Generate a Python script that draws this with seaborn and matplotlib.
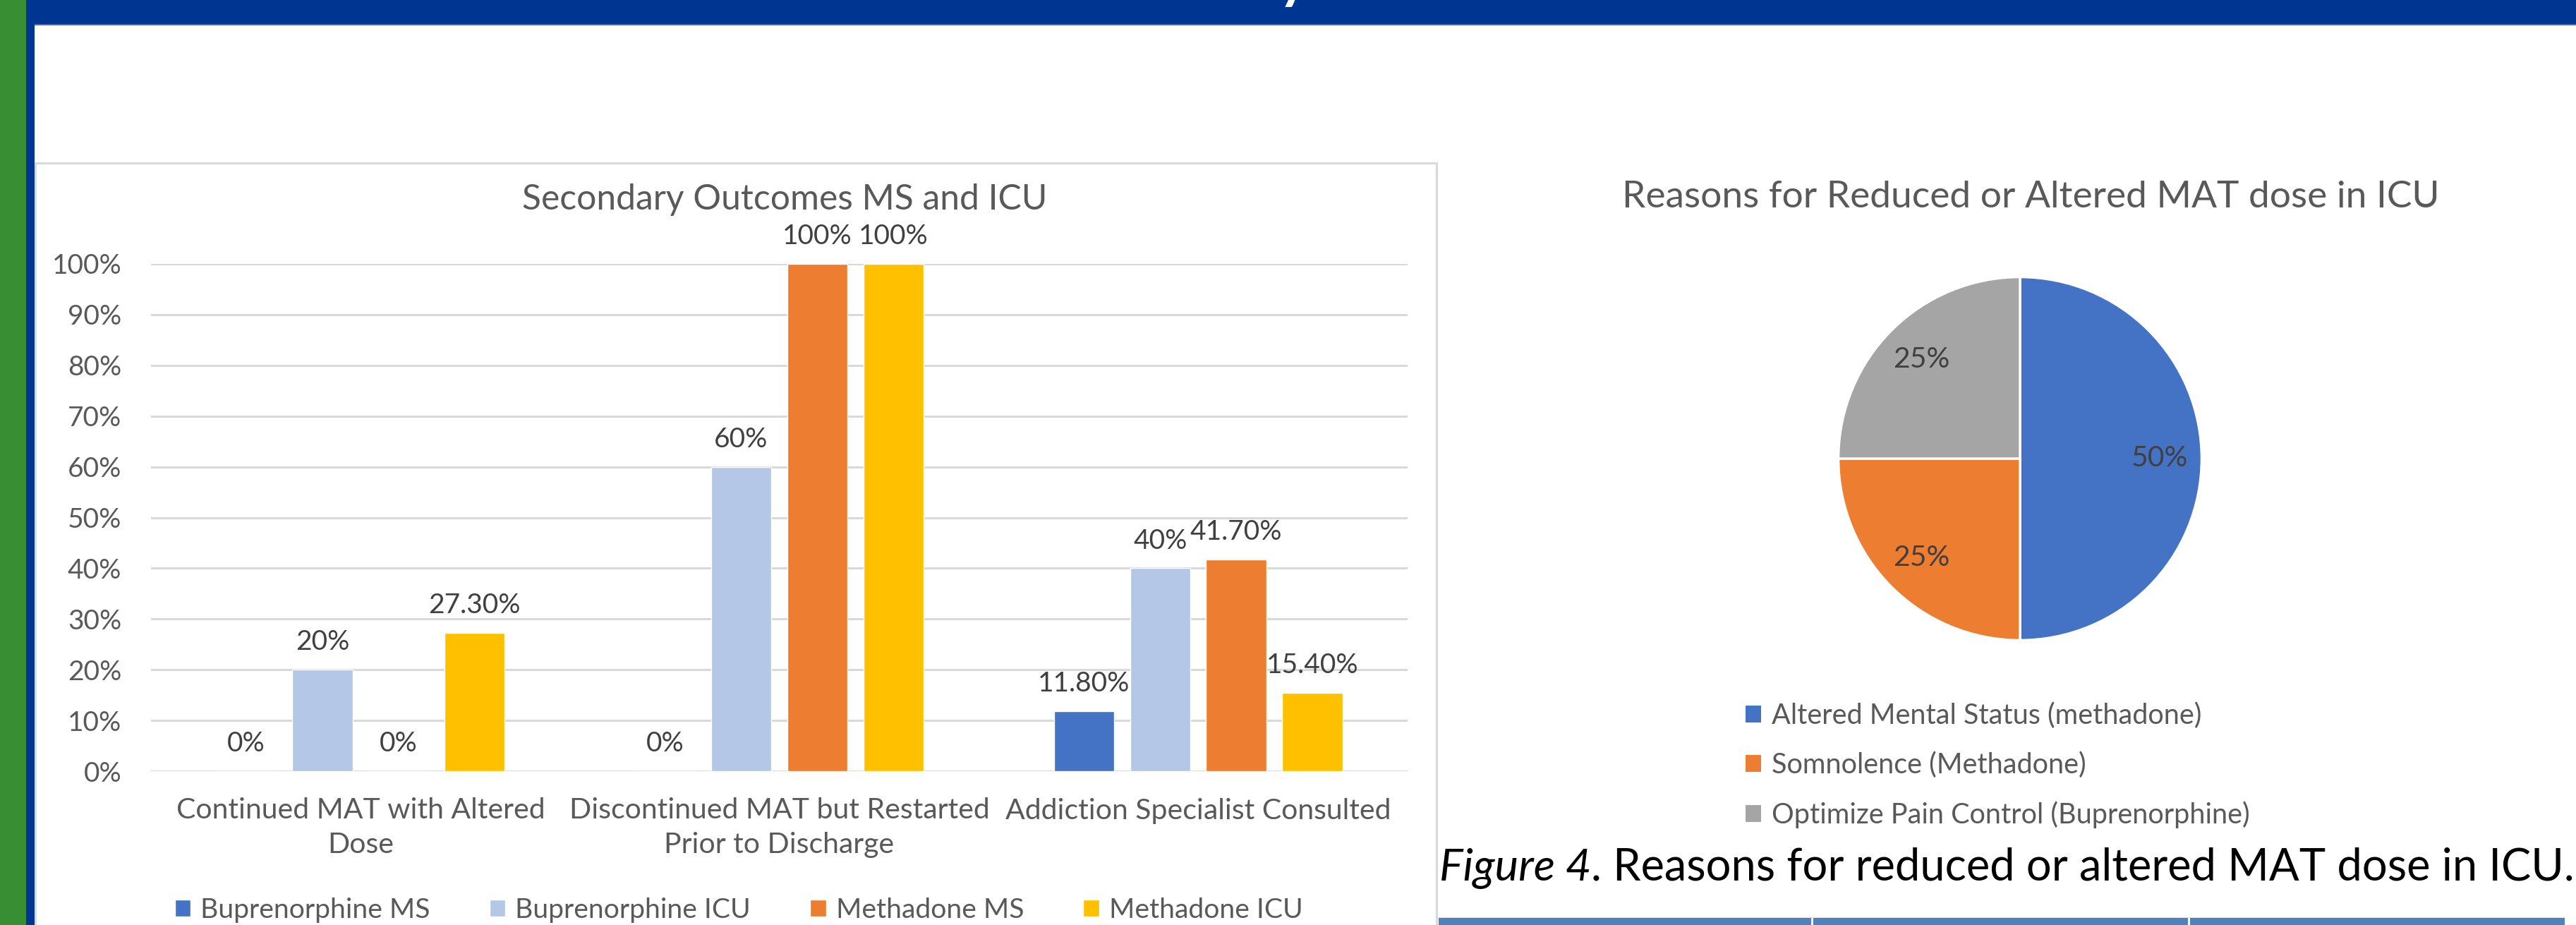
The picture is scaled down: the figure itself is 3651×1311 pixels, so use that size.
import numpy as np
import pandas as pd
import matplotlib
matplotlib.use("Agg")
import matplotlib.pyplot as plt
import seaborn as sns
from matplotlib.patches import Rectangle, Patch
from matplotlib.lines import Line2D

# ---------------- data ----------------
categories = ["Continued MAT with Altered\nDose",
              "Discontinued MAT but Restarted\nPrior to Discharge",
              "Addiction Specialist Consulted"]
series = ["Buprenorphine MS", "Buprenorphine ICU", "Methadone MS", "Methadone ICU"]
bup_ms = [0, 0, 11.8]
bup_icu = [20, 60, 40]
meth_ms = [0, 100, 41.7]
meth_icu = [27.3, 100, 15.4]
yticks = [0, 10, 20, 30, 40, 50, 60, 70, 80, 90, 100]
ytick_labels = ["0%", "10%", "20%", "30%", "40%", "50%", "60%", "70%", "80%", "90%", "100%"]
bar_title = "Secondary Outcomes MS and ICU"

pie_reasons = ["Altered Mental Status (methadone)",
               "Somnolence (Methadone)",
               "Optimize Pain Control (Buprenorphine)"]
pie_values = [50, 25, 25]
pie_title = "Reasons for Reduced or Altered MAT dose in ICU"
caption_italic = "Figure 4"
caption_rest = ". Reasons for reduced or altered MAT dose in ICU."
banner_text = "Secondary Outcomes"

bar_colors = ["#4472C4", "#B4C7E7", "#ED7D31", "#FFC000"]
pie_colors = ["#4472C4", "#ED7D31", "#A5A5A5"]

# ---------------- setup ----------------
sns.set_theme(style="white")
plt.rcParams['font.family'] = ['Lato', 'DejaVu Sans']

W, H = 3651, 1311
fig = plt.figure(figsize=(W / 100, H / 100), dpi=100)
fig.patch.set_facecolor("white")


def fx(px):
    return px / W


def fy(py):
    return 1 - py / H


def frect(x0, y0, x1, y1, color, z=0):
    fig.patches.append(Rectangle((fx(x0), fy(y1)), (x1 - x0) / W, (y1 - y0) / H,
                                 transform=fig.transFigure, facecolor=color,
                                 edgecolor="none", zorder=z))


# poster decorations
frect(0, 0, 37, H, "#388E33")
frect(37, 0, 49, H, "#003591")
frect(37, 0, W, 35, "#003591")
frect(49, 34, W, 36, "#4A6DB5")
fig.text(fx(1862), fy(-4), banner_text, ha="center", va="baseline",
         fontsize=58, fontweight="bold", color="white")

# chart box border
fig.add_artist(Line2D([fx(49.5), fx(49.5), fx(2036), fx(2036)],
                      [fy(H), fy(231), fy(231), fy(H)],
                      transform=fig.transFigure, color="#D9D9D9", lw=2.2))

# ---------------- bar chart ----------------
df = pd.DataFrame({
    "category": categories * 4,
    "series": sum([[s] * 3 for s in series], []),
    "value": bup_ms + bup_icu + meth_ms + meth_icu,
})

ax = fig.add_axes([fx(214), fy(1093), (1995 - 214) / W, (1093 - 374) / H])
sns.barplot(data=df, x="category", y="value", hue="series", order=categories,
            hue_order=series, palette=bar_colors, saturation=1, width=0.727,
            gap=0.21, errorbar=None, ax=ax)
ax.set_xlim(-0.5, 2.5)
ax.set_ylim(0, 100)
ax.set_yticks(yticks)
ax.set_yticklabels(ytick_labels)
ax.set_xlabel("")
ax.set_ylabel("")
for s in ax.spines.values():
    s.set_visible(False)
ax.yaxis.grid(True, color="#D9D9D9", lw=2.2)
ax.set_axisbelow(True)
ax.tick_params(axis="y", length=0, pad=30, labelsize=28, labelcolor="#595959")
ax.tick_params(axis="x", length=0, pad=27, labelsize=29.5, labelcolor="#595959")
for t in ax.get_xticklabels():
    t.set_linespacing(1.38)


def fmt(v):
    return f"{v:.0f}%" if float(v).is_integer() else f"{v:.2f}%"


series_vals = [bup_ms, bup_icu, meth_ms, meth_icu]
for cont, vals in zip(ax.containers, series_vals):
    ax.bar_label(cont, labels=[fmt(v) for v in vals], padding=15,
                 fontsize=28, color="#404040")

handles, labels = ax.get_legend_handles_labels()
if ax.get_legend() is not None:
    ax.get_legend().remove()
fig.legend(handles, labels, loc="center", bbox_to_anchor=(fx(1047), fy(1290)),
           ncol=4, frameon=False, fontsize=28.2, handlelength=0.58, handleheight=0.58,
           handletextpad=0.35, columnspacing=2.15, labelcolor="#595959",
           borderpad=0, borderaxespad=0)

fig.text(fx(1112), fy(297), bar_title, ha="center", va="baseline",
         fontsize=35.8, color="#595959")

# ---------------- pie chart ----------------
pax = fig.add_axes([fx(2603), fy(910), 520 / W, 520 / H])
pax.pie(pie_values, colors=pie_colors, startangle=90, counterclock=False,
        autopct="%1.0f%%", pctdistance=0.77,
        wedgeprops=dict(edgecolor="white", linewidth=2.5),
        textprops=dict(fontsize=29.5, color="#404040"))
pax.set_xlim(-1.01, 1.01)
pax.set_ylim(-1.01, 1.01)

fig.text(fx(2878), fy(294), pie_title, ha="center", va="baseline",
         fontsize=38.3, color="#595959")

pie_handles = [Patch(facecolor=c, edgecolor="none") for c in pie_colors]
fig.legend(pie_handles, pie_reasons, loc="upper left",
           bbox_to_anchor=(fx(2474), fy(995)), frameon=False, fontsize=28.5,
           handlelength=0.55, handleheight=0.55, handletextpad=0.38,
           labelspacing=0.82, labelcolor="#595959", borderpad=0, borderaxespad=0)

# ---------------- caption ----------------
cap_x0, cap_x1, cap_base = 2040, 3648, 1248
t1 = fig.text(fx(cap_x0), fy(cap_base), caption_italic, style="italic", fontsize=46,
              color="black", va="baseline")
t2 = fig.text(0, fy(cap_base), caption_rest, fontsize=46, color="black",
              va="baseline")
renderer = fig.canvas.get_renderer()
w_total = (t1.get_window_extent(renderer).width +
           t2.get_window_extent(renderer).width)
size = 46 * (cap_x1 - cap_x0) / w_total
t1.set_fontsize(size)
t2.set_fontsize(size)
bb = t1.get_window_extent(renderer)
t2.set_x(bb.x1 / W)

# table header strip
frect(2039, 1300, 3635, 1301, "#E0E0E0")
frect(2039, 1301, 3635, H, "#4F81BD")
frect(2567, 1301, 2570, H, "white", z=1)
frect(3101, 1301, 3104, H, "white", z=1)

fig.savefig("out.png", dpi=100)
